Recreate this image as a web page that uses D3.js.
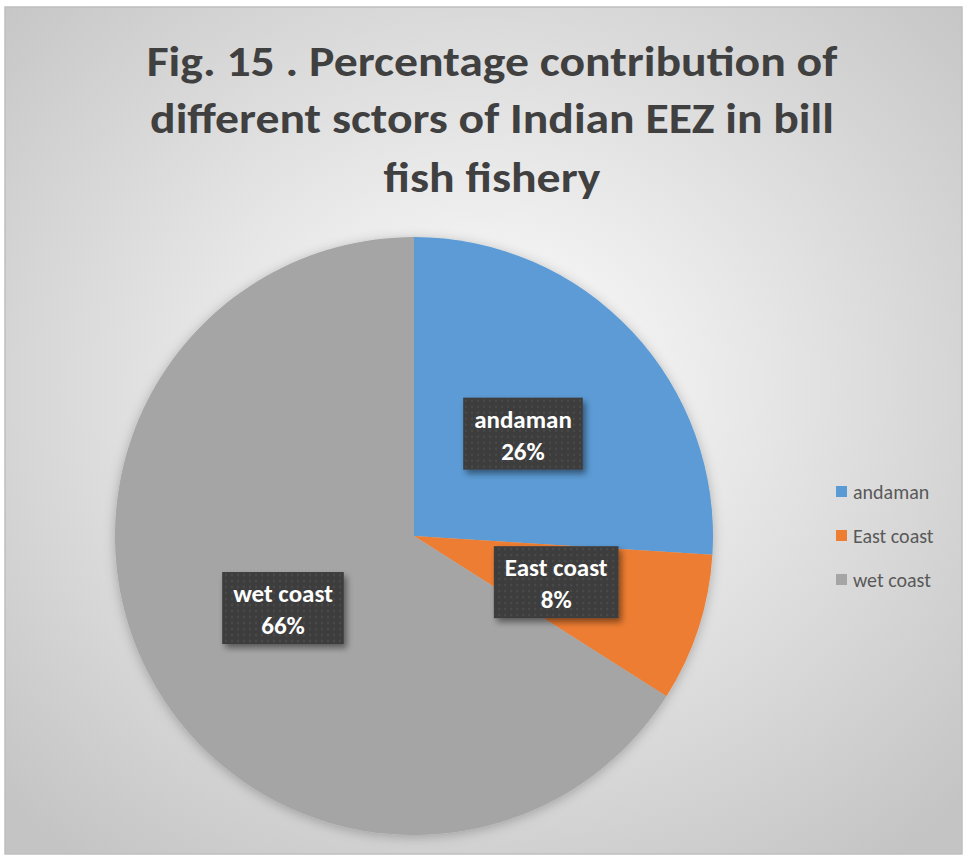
<!DOCTYPE html>
<html lang="en">
	<head>
		<meta charset="UTF-8" />
		<title>Bill fish fishery</title>
		<style>
			body { margin: 0; background: #fff; }
			text { font-family: Carlito, Calibri, Lato, sans-serif; }
		</style>
	</head>
	<body>
		<svg id="svg" width="967" height="861"></svg>
		<script src="https://d3js.org/d3.v7.min.js"></script>
		<script>
			// data
			const sectors = ['andaman', 'East coast', 'wet coast'];
			const percents = [26, 8, 66];
			const colors = ['#5B9BD5', '#ED7D31', '#A5A5A5'];
			const titleLines = [
				'Fig. 15 . Percentage contribution of',
				'different sctors of Indian EEZ in bill',
				'fish fishery',
			];

			const width = 967;
			const height = 861;
			const cx = 414;
			const cy = 536;
			const radius = 299;

			const svg = d3.select('#svg');
			const defs = svg.append('defs');

			const bg = defs
				.append('radialGradient')
				.attr('id', 'bg')
				.attr('cx', '50%')
				.attr('cy', '45%')
				.attr('r', '70%');
			bg.append('stop').attr('offset', '0%').attr('stop-color', '#ffffff');
			bg.append('stop').attr('offset', '100%').attr('stop-color', '#c4c4c4');

			const pat = defs
				.append('pattern')
				.attr('id', 'dots')
				.attr('width', 6)
				.attr('height', 6)
				.attr('patternUnits', 'userSpaceOnUse');
			pat.append('rect').attr('width', 6).attr('height', 6).attr('fill', '#3d3d3d');
			pat.append('circle').attr('cx', 3).attr('cy', 3).attr('r', 1.2).attr('fill', '#4a4a4a');

			const shadow = defs.append('filter').attr('id', 'shadow').attr('x', '-20%').attr('y', '-20%').attr('width', '150%').attr('height', '150%');
			shadow.append('feDropShadow').attr('dx', 3).attr('dy', 4).attr('stdDeviation', 3).attr('flood-color', '#000').attr('flood-opacity', 0.45);

			const pieShadow = defs.append('filter').attr('id', 'pieShadow').attr('x', '-20%').attr('y', '-20%').attr('width', '140%').attr('height', '140%');
			pieShadow.append('feDropShadow').attr('dx', 0).attr('dy', 2).attr('stdDeviation', 6).attr('flood-color', '#000').attr('flood-opacity', 0.25);

			// chart area
			svg.append('rect')
				.attr('x', 5).attr('y', 7)
				.attr('width', 957).attr('height', 847)
				.attr('fill', 'url(#bg)')
				.attr('stroke', '#bfbfbf')
				.attr('stroke-width', 1.5);

			// title, squeezed a bit to look like the condensed original face
			const titleY = [76, 133, 192];
			const titleW = [691, 684, 217];
			svg.append('g')
				.selectAll('text')
				.data(titleLines)
				.join('text')
				.attr('text-anchor', 'middle')
				.attr('font-size', 43)
				.attr('font-weight', 'bold')
				.attr('fill', '#404040')
				.text((d) => d)
				.each(function (d, i) {
					const w = this.getComputedTextLength();
					d3.select(this).attr('transform', `translate(492,${titleY[i]}) scale(${titleW[i] / w},1)`);
				});

			// pie
			const pie = d3.pie().sort(null).value((d) => d.value);
			const arc = d3.arc().innerRadius(0).outerRadius(radius);
			const arcs = pie(sectors.map((s, i) => ({ name: s, value: percents[i] })));

			const g = svg.append('g').attr('transform', `translate(${cx},${cy})`);
			g.append('g')
				.attr('filter', 'url(#pieShadow)')
				.selectAll('path')
				.data(arcs)
				.join('path')
				.attr('d', arc)
				.attr('fill', (d, i) => colors[i]);

			// data labels
			const labels = g.selectAll('g.lab')
				.data(arcs)
				.join('g')
				.attr('class', 'lab')
				.attr('transform', (d) => `translate(${arc.centroid(d)})`);

			labels.each(function (d) {
				const lg = d3.select(this);
				const box = lg.append('rect').attr('fill', 'url(#dots)').attr('filter', 'url(#shadow)');
				const t1 = lg.append('text')
					.attr('text-anchor', 'middle')
					.attr('y', -6)
					.attr('font-size', 25)
					.attr('font-weight', 'bold')
					.attr('fill', '#ffffff')
					.text(d.data.name);
				lg.append('text')
					.attr('text-anchor', 'middle')
					.attr('y', 26)
					.attr('font-size', 25)
					.attr('font-weight', 'bold')
					.attr('fill', '#ffffff')
					.text(d.data.value + '%');
				const w = t1.node().getComputedTextLength() + 22;
				box.attr('x', -w / 2).attr('y', -36).attr('width', w).attr('height', 72);
			});

			// legend
			const legend = svg.append('g').attr('transform', 'translate(836,492)');
			const items = legend.selectAll('g')
				.data(sectors)
				.join('g')
				.attr('transform', (d, i) => `translate(0,${i * 44})`);
			items.append('rect')
				.attr('x', 0).attr('y', -6)
				.attr('width', 11).attr('height', 11)
				.attr('fill', (d, i) => colors[i]);
			items.append('text')
				.attr('x', 17)
				.attr('y', 0)
				.attr('dy', '0.35em')
				.attr('font-size', 20)
				.attr('fill', '#595959')
				.text((d) => d);
		</script>
	</body>
</html>
